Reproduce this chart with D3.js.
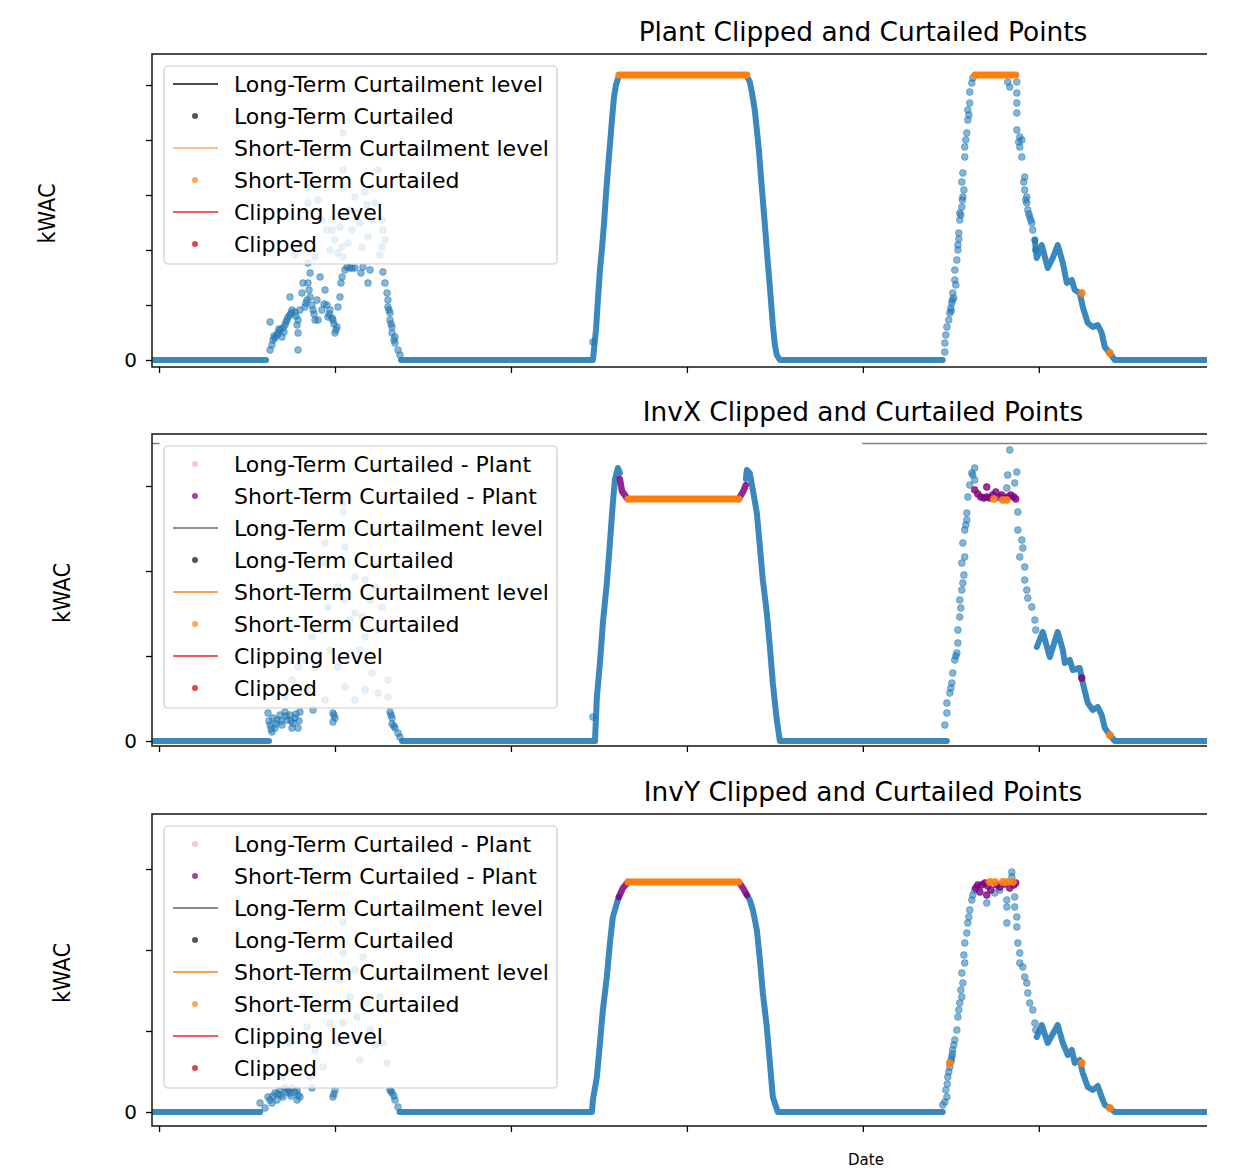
<!DOCTYPE HTML>
<html>
<head>
	<meta charset="utf-8">
	<title>Clipped and Curtailed Points</title>
	<script src="https://cdnjs.cloudflare.com/ajax/libs/d3/7.8.5/d3.min.js" type="text/javascript"></script>
	<style>
		body { margin:0; background:#fff; }
		svg text { font-family:'DejaVu Sans', sans-serif; fill:#000; }
	</style>
</head>
<body>
	<div id="main"></div>
<script>
// x = hours from the first midnight, y = kWAC (tick labels hidden except 0)
var hourTicks = [0, 12, 24, 36, 48, 60, 72, 84, 96];

var plantLegend = ['Long-Term Curtailment level', 'Long-Term Curtailed', 'Short-Term Curtailment level', 'Short-Term Curtailed', 'Clipping level', 'Clipped'];
var invLegend = ['Long-Term Curtailed - Plant', 'Short-Term Curtailed - Plant'].concat(plantLegend);

// ---------- Plant ----------
var plantBlueLines = [
	[[-0.6,0],[7.3,0]],
	[[16.5,0],[29.59,0],[29.66,10],[29.80,30],[29.93,60],[30.07,90],[30.20,110],[30.34,135],[30.48,165],[30.61,190],[30.75,215],[30.89,240],[31.02,262],[31.16,275],[31.36,284]],
	[[40.09,284],[40.29,278],[40.43,268],[40.63,250],[40.77,230],[40.91,210],[41.04,185],[41.18,160],[41.32,135],[41.45,110],[41.59,85],[41.73,60],[41.86,35],[42.00,15],[42.13,5],[42.34,0],[53.45,0]],
	[[59.73,120],[59.86,102],[60.20,115],[60.61,92],[60.95,102],[61.29,115],[61.64,97],[61.91,77],[62.25,80],[62.45,70],[62.79,67],[63.00,53],[63.34,37],[63.68,33],[64.02,35],[64.29,27],[64.50,13],[64.84,7],[65.18,0],[96.6,0]]
];
var plantBlueDots = [
	[7.57,10],[7.57,38],[7.70,15],[7.77,20],[7.91,22],[8.05,25],[8.11,27],[8.25,30],[8.39,23],[8.45,32],[8.59,35],[8.73,40],[8.80,43],[8.93,63],[8.93,45],[9.07,50],[9.27,48],[9.41,35],[9.48,27],[9.48,10],[9.48,40],[9.61,50],[9.75,67],[9.82,77],[9.95,53],[10.09,60],[10.16,77],[10.30,63],[10.30,87],[10.43,55],[10.50,50],[10.64,40],[10.77,60],[10.84,40],[10.98,83],[11.11,50],[11.32,70],[11.45,55],[11.52,43],[11.66,50],[11.80,42],[11.86,40],[12.00,27],[12.14,33],[12.20,53],[12.34,63],[12.41,77],[12.48,83],[12.68,90],[12.82,93],[13.02,92],[13.16,92],[13.36,92],[13.77,87],[13.91,93],[14.25,77],[14.39,90],[15.27,88],[15.41,77],[15.55,67],[15.61,60],[15.61,53],[15.75,47],[15.75,40],[15.89,33],[15.89,27],[16.09,23],[16.09,17],[16.30,10],[16.43,5],
	[7.84,24],[8.18,31],[8.52,28],[8.66,38],[9.00,47],[9.34,44],[10.02,57],[10.23,70],[10.57,46],[11.25,56],[11.60,46],[11.93,36],[12.07,30],[15.68,50],[15.82,36],[16.02,20],
	[12.55,227],[12.55,190],[12.55,172],[13.36,163],[14.05,168],[14.93,190],[10.09,173],[10.16,157],[10.84,160],[11.11,140],[11.45,130],[11.80,130],[12.00,120],[12.34,133],[12.48,113],[12.55,103],[12.89,117],[13.16,130],[13.50,147],[13.70,137],[13.84,113],[14.25,123],[14.52,140],[14.73,157],[15.20,140],[15.27,130],[15.20,113],[10.16,97],[10.64,103],[12.20,107],[15.07,105],[15.41,120],[13.02,150],[14.18,155],[11.66,110],[9.27,105],[9.61,115],
	[29.59,18],
	[53.59,8],[53.59,17],[53.73,33],[53.93,47],[54.00,52],[54.07,57],[54.13,67],[54.20,62],[54.27,80],[54.27,90],[54.34,75],[54.41,100],[54.48,110],[54.48,115],[54.54,127],[54.61,140],[54.61,147],[54.68,145],[54.75,153],[54.82,163],[54.89,170],[54.75,178],[54.82,187],[54.95,203],[54.95,213],[55.09,227],[55.16,240],[55.23,245],[55.16,250],[55.29,257],[55.29,268],[55.43,277],[55.50,282],
	[53.66,25],[53.86,40],[54.03,49],[54.10,60],[54.55,121],[54.79,160],[55.02,220],
	[58.02,273],[57.88,278],[58.50,278],[58.50,267],[58.50,257],[58.50,247],[58.50,230],[58.70,223],[58.70,213],[58.84,203],[58.84,220],[59.04,183],[59.04,170],[59.18,163],[59.18,157],[59.25,150],[59.38,143],[59.52,137],[59.59,130],[59.73,120],[59.79,110],
	[58.63,218],[58.97,178],[59.11,160],[59.32,146],[59.45,140]
];
var plantOrangeLines = [
	[[31.36,285],[40.09,285]],
	[[55.63,285],[58.43,285]]
];
var plantOrangeDots = [[62.93,67],[64.84,7]];

// ---------- InvX ----------
var invxBlueLines = [
	[[-0.6,0],[7.5,0]],
	[[16.57,0],[29.73,0],[29.86,44],[30.07,78],[30.27,118],[30.54,158],[30.75,198],[30.95,238],[31.09,261],[31.29,273],[31.43,268]],
	[[40.02,262],[40.09,271],[40.29,268],[40.50,251],[40.77,228],[40.98,194],[41.18,161],[41.45,128],[41.66,94],[41.86,58],[42.13,21],[42.34,0],[53.73,0]],
	[[59.86,94],[60.27,109],[60.75,84],[61.29,109],[61.64,91],[61.77,78],[62.11,81],[62.32,71],[62.79,73],[63.00,58],[63.34,38],[63.68,31],[64.02,34],[64.29,26],[64.50,13],[64.84,6],[65.18,0],[96.6,0]]
];
var invxBlueDots = [
	[7.43,28],[7.57,16],[7.70,9],[7.77,23],[7.91,13],[8.05,21],[8.25,26],[8.39,16],[8.59,29],[8.73,21],[8.93,26],[9.07,13],[9.27,23],[9.48,13],[9.61,29],[10.50,31],[11.86,19],[11.86,28],[12.00,23],[15.75,29],[15.89,23],[15.89,17],[16.09,13],[16.30,8],[16.43,4],
	[7.50,20],[7.64,12],[7.98,17],[8.32,20],[8.66,25],[9.00,20],[9.14,18],[9.34,27],[9.55,20],[11.93,26],[15.82,26],[16.02,15],
	[12.55,238],[12.55,229],[11.32,198],[12.68,194],[11.32,178],[13.36,164],[14.05,161],[14.73,154],[12.20,154],[12.68,141],[13.36,128],[13.84,124],[15.20,134],[14.93,111],[14.05,104],[11.52,134],[11.11,111],[10.43,104],[9.95,81],[9.48,74],[9.07,61],[8.59,44],[10.64,74],[12.20,74],[12.68,54],[14.52,68],[14.93,48],[15.61,44],[15.61,61],[13.70,91],[13.02,121],[14.39,141],[11.66,91],[10.16,51],[11.32,41],[13.36,41],[14.05,51],
	[29.59,24],
	[53.59,16],[53.73,28],[53.73,38],[53.93,48],[54.00,53],[54.07,58],[54.13,68],[54.27,81],[54.34,85],[54.41,88],[54.48,98],[54.48,111],[54.61,124],[54.68,133],[54.61,141],[54.75,151],[54.82,158],[54.89,166],[54.75,178],[54.95,184],[54.82,198],[54.95,211],[55.02,216],[55.09,221],[55.09,228],[55.16,244],[55.29,256],[55.43,268],[55.63,273],[55.50,266],[55.63,261],
	[58.02,291],[58.50,269],[57.88,266],[58.36,258],[57.82,253],[58.57,229],
	[58.57,211],[58.84,201],[58.70,184],[58.91,193],[59.04,174],[59.04,161],[59.18,151],[59.25,143],[59.52,134],[59.73,121],[59.79,111]
];
var invxPurpleLines = [
	[[31.43,262],[31.57,250],[31.91,243],[31.98,242]],
	[[39.54,242],[39.61,244],[39.82,249],[40.02,256]]
];
var invxPurpleDots = [[55.63,251],[55.84,247],[56.04,244],[56.25,243],[56.45,254],[56.45,244],[56.66,243],[56.86,246],[57.07,249],[57.27,244],[57.47,246],[57.68,243],[57.88,244],[58.09,246],[58.29,244],[58.43,242],[62.93,63]];
var invxOrangeLines = [[[31.98,242],[39.54,242]]];
var invxOrangeDots = [[56.93,242],[57.54,241],[57.82,241],[64.84,6]];
var invxLongTermLevel = [[[-0.6,297.5],[0.0,297.5]], [[48.0,297.5],[96.6,297.5]]];

// ---------- InvY ----------
var invyBlueLines = [
	[[-0.6,0],[6.9,0]],
	[[16.4,0],[29.52,0],[29.59,12],[29.86,35],[30.07,69],[30.27,102],[30.54,135],[30.75,169],[30.95,195],[31.23,209],[31.36,215]],
	[[40.09,217],[40.29,212],[40.50,202],[40.77,182],[40.98,152],[41.18,119],[41.45,85],[41.66,49],[41.86,15],[42.20,0],[53.45,0]],
	[[59.86,75],[60.20,87],[60.61,69],[61.29,87],[61.64,69],[61.98,57],[62.25,62],[62.45,49],[62.79,52],[63.00,39],[63.34,25],[63.68,22],[64.02,26],[64.29,15],[64.50,7],[64.84,4],[65.18,0],[96.6,0]]
];
var invyBlueDots = [
	[6.89,9],[7.23,4],[7.43,15],[7.70,9],[7.91,19],[8.05,12],[8.25,22],[8.45,15],[8.59,24],[8.73,20],[8.93,19],[9.07,24],[9.41,12],[9.41,22],[9.61,15],[10.43,24],[11.86,15],[12.00,22],[15.75,22],[15.89,19],[16.09,12],[16.30,5],
	[7.57,12],[7.77,16],[8.11,18],[8.32,17],[8.80,22],[9.00,16],[9.27,20],[9.48,17],[11.93,18],[15.82,21],[16.02,16],
	[12.55,190],[12.55,159],[13.91,155],[11.18,135],[13.02,115],[14.18,109],[14.86,135],[15.07,115],[9.82,115],[10.09,85],[8.93,69],[11.66,89],[12.55,89],[13.50,95],[15.27,69],[15.55,49],[8.45,35],[10.30,35],[11.18,45],[12.14,69],[14.39,82],[12.34,132],[13.36,142],[10.64,62],[13.70,52],[14.73,67],
	[53.45,7],[53.73,15],[53.79,35],[53.93,45],[54.00,50],[54.07,55],[54.13,62],[54.20,67],[54.27,72],[54.41,82],[54.48,95],[54.54,102],[54.61,109],[54.75,115],[54.68,122],[54.82,129],[54.75,139],[54.95,149],[54.89,157],[54.95,169],[55.09,179],[55.16,189],[55.23,195],[55.29,202],[55.43,212],[55.50,217],[55.63,222],
	[53.59,10],[53.66,22],[53.76,28],[53.86,40],[54.03,52],[54.10,58],
	[56.45,209],[57.82,212],[57.82,205],[57.82,189],[58.36,215],[58.36,205],[58.50,195],[58.50,185],[58.16,240],[58.16,235],[57.00,219],[57.34,222],
	[58.57,169],[58.70,159],[58.70,149],[58.91,145],[59.04,135],[59.18,129],[59.25,119],[59.38,109],[59.59,102],[59.73,89],[59.79,82]
];
var invyPurpleLines = [
	[[31.36,215],[31.64,224],[31.98,230]],
	[[39.54,230],[39.82,224],[40.09,217]]
];
var invyPurpleDots = [[55.70,224],[55.84,227],[55.98,220],[56.11,227],[56.32,229],[56.45,217],[56.52,226],[56.73,222],[57.13,227],[57.34,225],[57.68,228],[58.02,224],[58.29,227],[58.43,229]];
var invyOrangeLines = [[[31.98,230],[39.54,230]]];
var invyOrangeDots = [[56.66,230],[57.00,230],[57.54,230],[57.82,230],[58.23,230],[62.93,49],[64.84,4],[53.93,49]];

var panels = [
	{title:'Plant Clipped and Curtailed Points', top:54, bottom:367, yDomain:[-7,306], yStep:55, labelX:47,
		blue:plantBlueLines, blueDots:plantBlueDots, purple:[], purpleDots:[], orange:plantOrangeLines, orangeDots:plantOrangeDots, level:[], legend:plantLegend, legendTop:66, ltColor:'#111', stColor:'#ffab66'},
	{title:'InvX Clipped and Curtailed Points', top:434, bottom:746, yDomain:[-5,307], yStep:85, labelX:62,
		blue:invxBlueLines, blueDots:invxBlueDots, purple:invxPurpleLines, purpleDots:invxPurpleDots, orange:invxOrangeLines, orangeDots:invxOrangeDots, level:invxLongTermLevel, legend:invLegend, legendTop:446, ltColor:'#666', stColor:'#ff7f0e'},
	{title:'InvY Clipped and Curtailed Points', top:814, bottom:1126, yDomain:[-14,298], yStep:81, labelX:62,
		blue:invyBlueLines, blueDots:invyBlueDots, purple:invyPurpleLines, purpleDots:invyPurpleDots, orange:invyOrangeLines, orangeDots:invyOrangeDots, level:[], legend:invLegend, legendTop:826, ltColor:'#666', stColor:'#ff7f0e'}
];

var svg = d3.select('#main').append('svg').attr('width', 1241).attr('height', 1170);
var defs = svg.append('defs');
defs.append('clipPath').attr('id', 'crop').append('rect')
	.attr('x', 0).attr('y', 0).attr('width', 1207).attr('height', 1170);
var root = svg.append('g').attr('clip-path', 'url(#crop)');

var x = d3.scaleLinear().domain([-0.48, 96.5]).range([152, 1574]);

panels.forEach(function(p, i){
	var y = d3.scaleLinear().domain(p.yDomain).range([p.bottom, p.top]);
	var line = d3.line().x(function(d){ return x(d[0]); }).y(function(d){ return y(d[1]); });

	defs.append('clipPath').attr('id', 'plot' + i).append('rect')
		.attr('x', 152).attr('y', p.top).attr('width', 1422).attr('height', p.bottom - p.top);
	var plot = root.append('g').attr('clip-path', 'url(#plot' + i + ')');

	function lines(data, color, width, opacity){
		plot.append('g').selectAll('path').data(data).enter().append('path')
			.attr('d', line)
			.attr('fill', 'none')
			.attr('stroke', color)
			.attr('stroke-width', width)
			.attr('stroke-opacity', opacity)
			.attr('stroke-linecap', 'round')
			.attr('stroke-linejoin', 'round');
	}
	function dots(data, color, r, opacity){
		plot.append('g').selectAll('circle').data(data).enter().append('circle')
			.attr('cx', function(d){ return x(d[0]); })
			.attr('cy', function(d){ return y(d[1]); })
			.attr('r', r)
			.attr('fill', color)
			.attr('fill-opacity', opacity)
			.attr('stroke', color)
			.attr('stroke-opacity', opacity)
			.attr('stroke-width', 0.8);
	}

	lines(p.blue, '#1f77b4', 6, 0.88);
	dots(p.blueDots, '#1f77b4', 3.4, 0.55);
	lines(p.purple, '#800080', 6.5, 0.85);
	dots(p.purpleDots, '#800080', 3.4, 0.8);
	lines(p.orange, '#ff7f0e', 7, 1);
	dots(p.orangeDots, '#ff7f0e', 3.6, 0.9);
	lines(p.level, '#808080', 1.6, 1);

	// spines
	root.append('rect')
		.attr('x', 152).attr('y', p.top).attr('width', 1422).attr('height', p.bottom - p.top)
		.attr('fill', 'none').attr('stroke', '#222').attr('stroke-width', 1.6);

	// axes
	var yAxis = d3.axisLeft(y)
		.tickValues(d3.range(0, p.yDomain[1], p.yStep))
		.tickFormat(function(d){ return d === 0 ? '0' : ''; })
		.tickSize(6).tickPadding(9);
	var ya = root.append('g').attr('transform', 'translate(152,0)').call(yAxis);
	ya.select('.domain').remove();
	ya.selectAll('line').attr('stroke', '#000').attr('stroke-width', 1.3);
	ya.selectAll('text').attr('font-size', '20px').attr('font-family', 'DejaVu Sans');

	var xAxis = d3.axisBottom(x).tickValues(hourTicks).tickFormat('').tickSize(6);
	var xa = root.append('g').attr('transform', 'translate(0,' + p.bottom + ')').call(xAxis);
	xa.select('.domain').remove();
	xa.selectAll('line').attr('stroke', '#000').attr('stroke-width', 1.3);

	// titles and labels
	root.append('text')
		.attr('x', 863).attr('y', p.top - 13)
		.attr('text-anchor', 'middle')
		.attr('font-size', '26.4px')
		.text(p.title);
	root.append('text')
		.attr('transform', 'translate(' + (p.labelX + 8) + ',' + ((p.top + p.bottom) / 2 + 3) + ') rotate(-90)')
		.attr('text-anchor', 'middle')
		.attr('font-size', '23px')
		.attr('textLength', 60)
		.attr('lengthAdjust', 'spacingAndGlyphs')
		.text('kWAC');

	// legend
	var handles = {
		'Long-Term Curtailed - Plant' : {type:'dot', color:'#f8c4d0'},
		'Short-Term Curtailed - Plant' : {type:'dot', color:'#9a4a9a'},
		'Long-Term Curtailment level' : {type:'line', color:p.ltColor},
		'Long-Term Curtailed' : {type:'dot', color:'#555'},
		'Short-Term Curtailment level' : {type:'line', color:p.stColor},
		'Short-Term Curtailed' : {type:'dot', color:'#ffa657'},
		'Clipping level' : {type:'line', color:'#e8262a'},
		'Clipped' : {type:'dot', color:'#e04848'}
	};
	var lg = root.append('g');
	lg.append('rect')
		.attr('x', 164).attr('y', p.legendTop)
		.attr('width', 393).attr('height', p.legend.length * 32 + 6)
		.attr('rx', 4)
		.attr('fill', '#fff').attr('fill-opacity', 0.8)
		.attr('stroke', '#cccccc').attr('stroke-width', 1.2);
	var rows = lg.selectAll('g.row').data(p.legend).enter().append('g')
		.attr('class', 'row')
		.attr('transform', function(d, k){ return 'translate(0,' + (p.legendTop + 18 + k * 32) + ')'; });
	rows.filter(function(d){ return handles[d].type == 'line'; }).append('line')
		.attr('x1', 173).attr('x2', 218)
		.attr('stroke', function(d){ return handles[d].color; })
		.attr('stroke-width', 1.3);
	rows.filter(function(d){ return handles[d].type == 'dot'; }).append('circle')
		.attr('cx', 195).attr('r', 3)
		.attr('fill', function(d){ return handles[d].color; });
	rows.append('text')
		.attr('x', 234).attr('dy', '0.35em')
		.attr('font-size', '22px')
		.text(function(d){ return d; });
});

root.append('text')
	.attr('x', 866).attr('y', 1165)
	.attr('text-anchor', 'middle')
	.attr('font-size', '15px')
	.text('Date');
</script>
</body>
</html>
